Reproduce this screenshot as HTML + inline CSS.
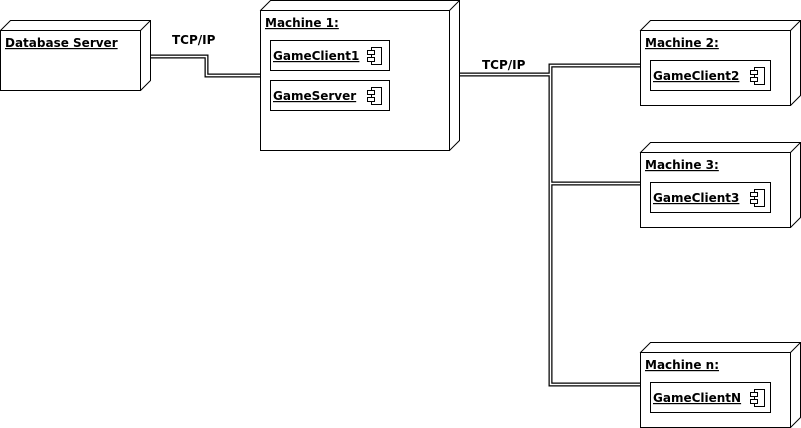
<!DOCTYPE html>
<html><head><style>
html,body{margin:0;padding:0;background:#fff;width:801px;height:428px;overflow:hidden}
svg text{font-family:"DejaVu Sans","Liberation Sans",sans-serif;font-weight:bold;font-size:12px;fill:#000}
</style></head><body>
<svg width="801" height="428" viewBox="0 0 801 428" xmlns="http://www.w3.org/2000/svg">
<defs>
<g id="ic"><rect x="0" y="0" width="10" height="17" fill="#fff" stroke="#000"/><rect x="-4" y="3" width="7" height="4" fill="#fff" stroke="#000"/><rect x="-4" y="10" width="7" height="4" fill="#fff" stroke="#000"/></g>
</defs>
<g fill="none" stroke-linejoin="miter">
<g stroke="#000" stroke-width="4">
<polyline points="150,56.5 206.5,56.5 206.5,75.5 260,75.5"/>
<polyline points="459,74.5 550.5,74.5"/>
<polyline points="640,65.5 550.5,65.5 550.5,384.5 640,384.5"/>
<polyline points="550.5,183.5 640,183.5"/>
</g>
<g stroke="#fff" stroke-width="1.5">
<polyline points="150,56.5 206.5,56.5 206.5,75.5 260,75.5"/>
<polyline points="459,74.5 550.5,74.5"/>
<polyline points="640,65.5 550.5,65.5 550.5,384.5 640,384.5"/>
<polyline points="550.5,183.5 640,183.5"/>
</g>
</g>
<g fill="#fff" stroke="#000" stroke-width="1">
<path d="M0.5,30.5 L10.5,20.5 L150.5,20.5 L150.5,80.5 L140.5,90.5 Z"/>
<rect x="0.5" y="30.5" width="140" height="60"/><line x1="140.5" y1="30.5" x2="150.5" y2="20.5"/>
<path d="M260.5,10.5 L270.5,0.5 L459.5,0.5 L459.5,140.5 L449.5,150.5 Z"/>
<rect x="260.5" y="10.5" width="189" height="140"/><line x1="449.5" y1="10.5" x2="459.5" y2="0.5"/>
<rect x="270.5" y="40.5" width="119" height="30"/>
<rect x="270.5" y="80.5" width="119" height="30"/>
<path d="M640.5,30.5 L650.5,20.5 L800.5,20.5 L800.5,95.5 L790.5,105.5 Z"/>
<rect x="640.5" y="30.5" width="150" height="75"/><line x1="790.5" y1="30.5" x2="800.5" y2="20.5"/>
<rect x="650.5" y="60.5" width="120" height="30"/>
<path d="M640.5,152.5 L650.5,142.5 L800.5,142.5 L800.5,217.5 L790.5,227.5 Z"/>
<rect x="640.5" y="152.5" width="150" height="75"/><line x1="790.5" y1="152.5" x2="800.5" y2="142.5"/>
<rect x="650.5" y="182.5" width="120" height="30"/>
<path d="M640.5,352.5 L650.5,342.5 L800.5,342.5 L800.5,417.5 L790.5,427.5 Z"/>
<rect x="640.5" y="352.5" width="150" height="75"/><line x1="790.5" y1="352.5" x2="800.5" y2="342.5"/>
<rect x="650.5" y="382.5" width="120" height="30"/>
</g>
<use href="#ic" x="371.5" y="47.5"/>
<use href="#ic" x="371.5" y="87.5"/>
<use href="#ic" x="754.5" y="67.5"/>
<use href="#ic" x="754.5" y="189.5"/>
<use href="#ic" x="754.5" y="389.5"/>
<text x="5" y="47" text-decoration="underline">Database Server</text>
<text x="265" y="27" text-decoration="underline">Machine 1:</text>
<text x="273" y="60" text-decoration="underline">GameClient1</text>
<text x="273" y="100" text-decoration="underline">GameServer</text>
<text x="645" y="47" text-decoration="underline">Machine 2:</text>
<text x="653" y="80" text-decoration="underline">GameClient2</text>
<text x="645" y="169" text-decoration="underline">Machine 3:</text>
<text x="653" y="202" text-decoration="underline">GameClient3</text>
<text x="645" y="369" text-decoration="underline">Machine n:</text>
<text x="653" y="402" text-decoration="underline">GameClientN</text>
<text x="172" y="44">TCP/IP</text>
<text x="482" y="69">TCP/IP</text>
</svg>
</body></html>
